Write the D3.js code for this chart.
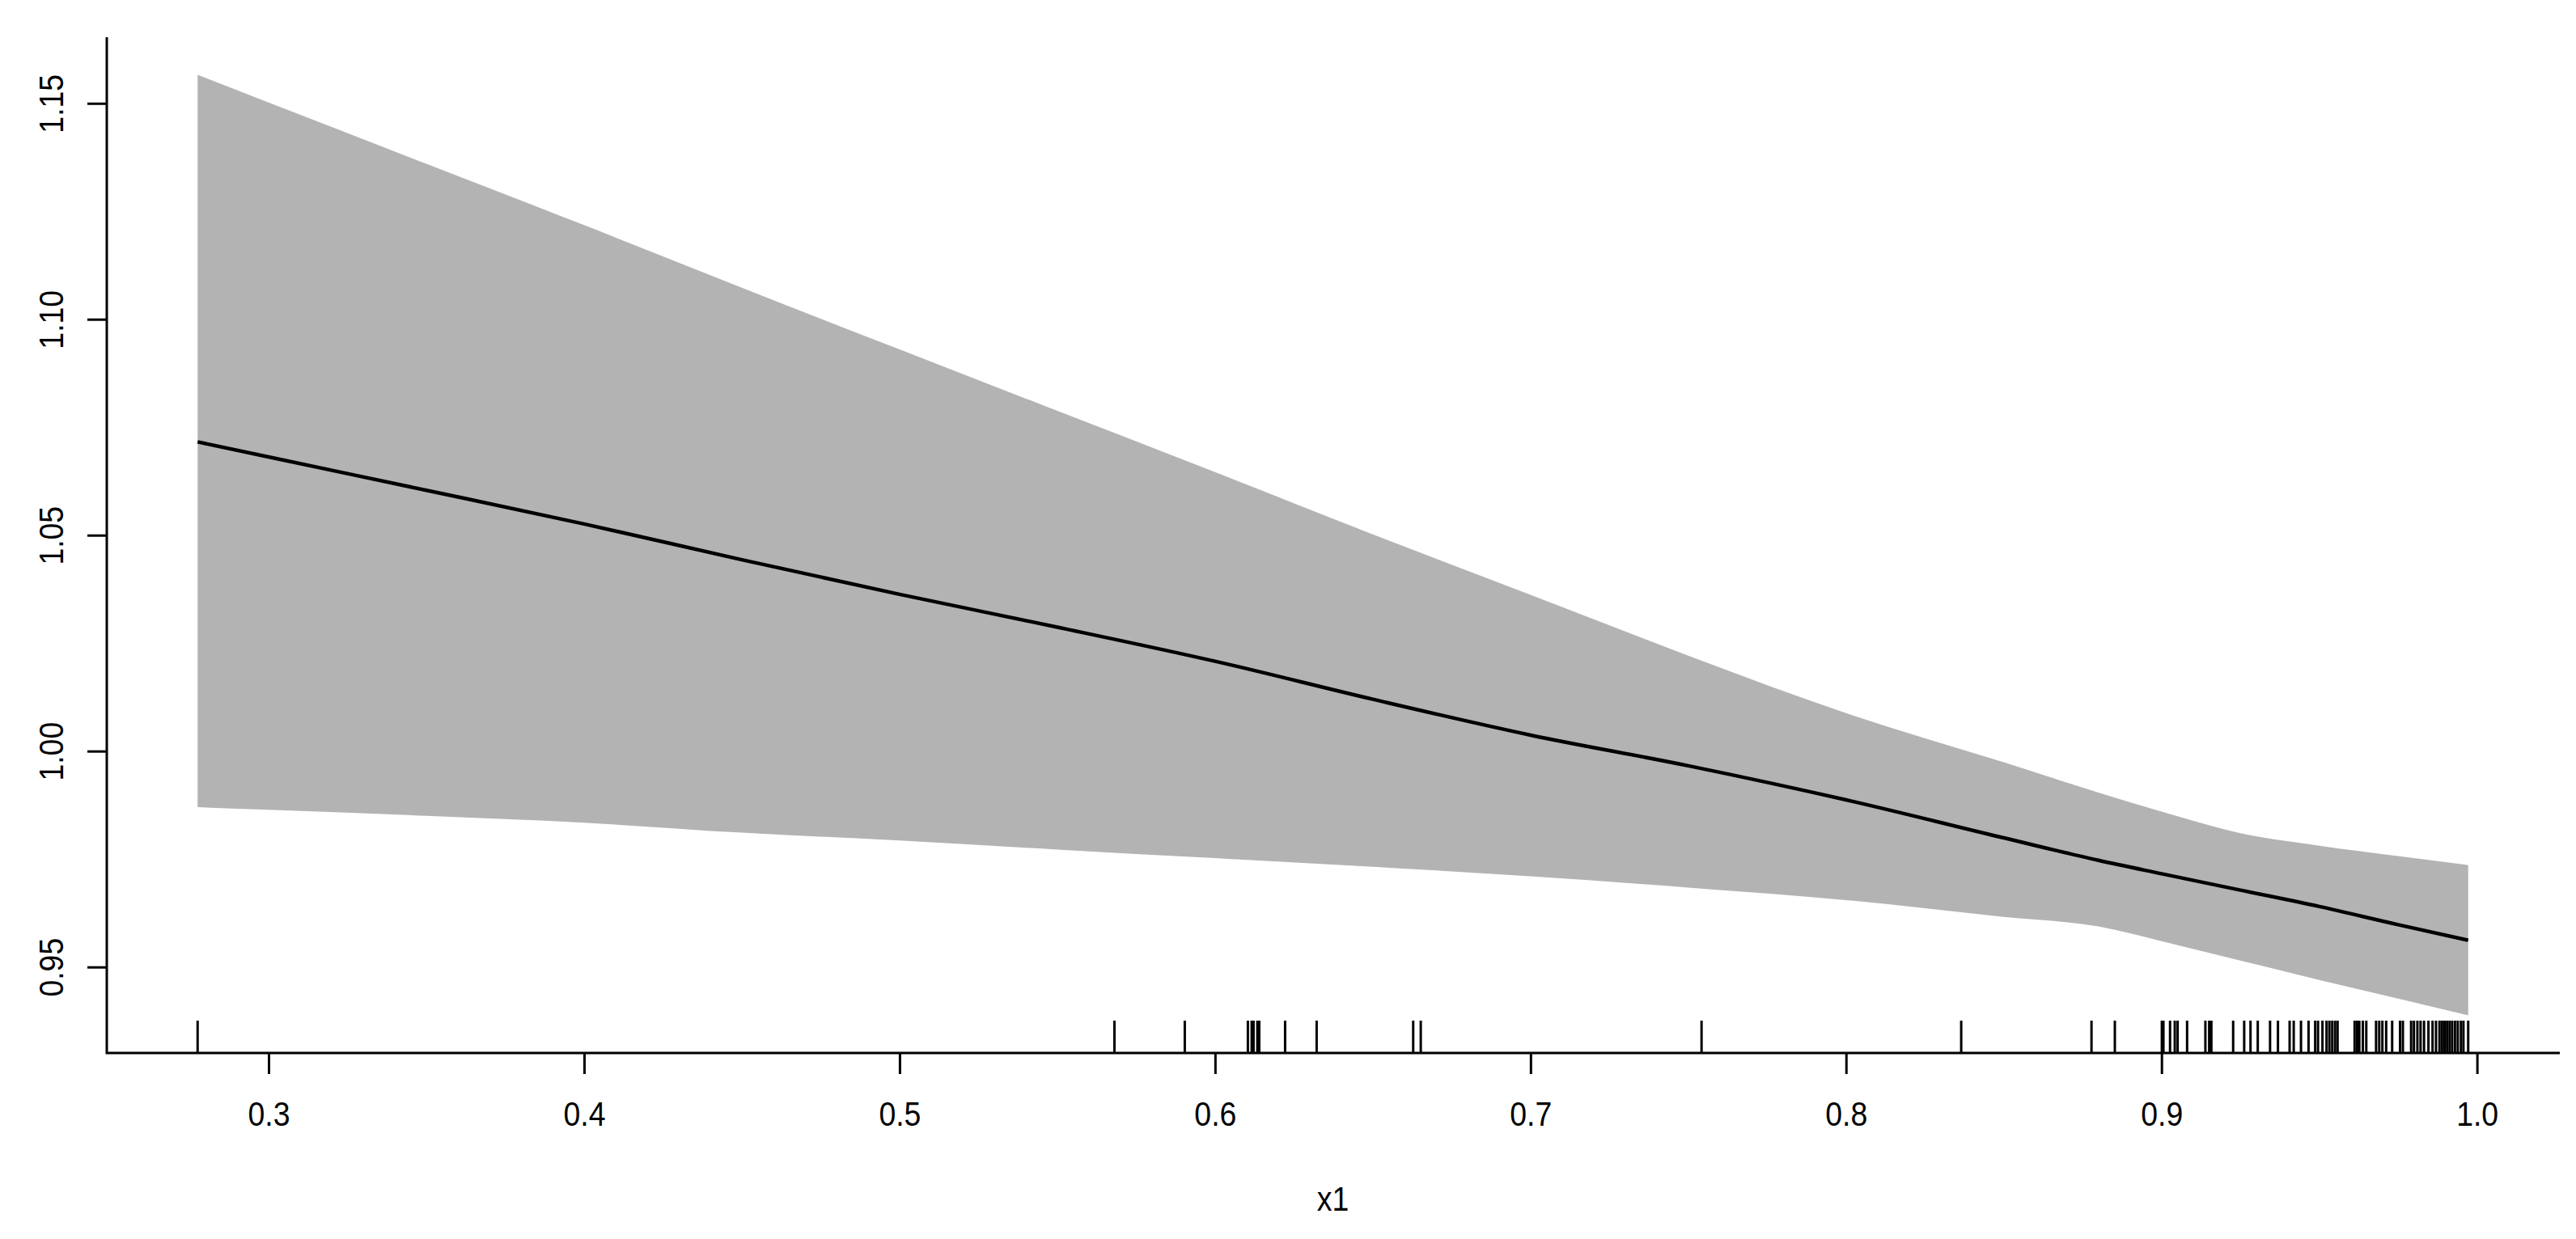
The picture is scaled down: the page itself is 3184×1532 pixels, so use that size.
<!DOCTYPE html>
<html>
<head>
<meta charset="utf-8">
<script src="https://cdn.jsdelivr.net/npm/d3@7"></script>
<style>
    body { margin: 0; background: #fff; }
    text { font-family: "Liberation Sans", Arial, sans-serif; }
</style>
</head>
<body>
<script>
//wrap everything in a self-executing function to keep things local
(function(){

//smooth fit: x grid with mean and confidence band
var fitX = [0.2775, 0.30, 0.35, 0.40, 0.45, 0.50, 0.55, 0.60, 0.65, 0.70, 0.75, 0.80, 0.85, 0.88, 0.90, 0.925, 0.95, 0.975, 0.9972];
var fitMean = [1.0716, 1.0681, 1.0604, 1.0526, 1.0443, 1.0363, 1.0287, 1.0208, 1.0120, 1.0037, 0.9966, 0.9887, 0.9799, 0.9747, 0.9716, 0.9678, 0.9640, 0.9598, 0.9562];
var fitUpper = [1.1566, 1.1502, 1.1360, 1.1218, 1.1073, 1.0930, 1.0788, 1.0646, 1.0502, 1.0362, 1.0221, 1.0088, 0.9974, 0.9904, 0.9860, 0.9810, 0.9781, 0.9757, 0.9736];
var fitLower = [0.9870, 0.9864, 0.9850, 0.9834, 0.9811, 0.9793, 0.9772, 0.9752, 0.9732, 0.9710, 0.9684, 0.9655, 0.9616, 0.9594, 0.9560, 0.9515, 0.9470, 0.9427, 0.9388];

//observed x1 values for the rug
var rugX = [0.2775, 0.5681, 0.5904, 0.6104, 0.6116, 0.6122, 0.6134, 0.6140, 0.6222, 0.6322, 0.6628, 0.6652,
    0.7542, 0.8365, 0.8778, 0.8852, 0.9001, 0.9006, 0.9027, 0.9042, 0.9051, 0.9081, 0.9139, 0.9151, 0.9158,
    0.9227, 0.9262, 0.9282, 0.9305, 0.9344, 0.9369, 0.9406, 0.9419, 0.9442, 0.9466, 0.9487, 0.9496, 0.9510,
    0.9523, 0.9532, 0.9541, 0.9550, 0.9558, 0.9612, 0.9620, 0.9627, 0.9638, 0.9649, 0.9680, 0.9690, 0.9700,
    0.9712, 0.9731, 0.9756, 0.9765, 0.9791, 0.9800, 0.9811, 0.9821, 0.9832, 0.9846, 0.9859, 0.9870, 0.9881,
    0.9889, 0.9897, 0.9905, 0.9913, 0.9921, 0.9930, 0.9939, 0.9949, 0.9957, 0.9972];

//axis ticks and labels
var xTicks = [0.3, 0.4, 0.5, 0.6, 0.7, 0.8, 0.9, 1.0];
var yTicks = [0.95, 1.00, 1.05, 1.10, 1.15];
var xTitle = "x1";

window.onload = drawChart();

function drawChart(){

    var width = 3184,
        height = 1532;

    //plot region (R-style, bty = "l")
    var left = 132,
        right = 3163,
        top = 46,
        bottom = 1302;

    var svg = d3.select("body")
        .append("svg")
        .attr("width", width)
        .attr("height", height);

    //R extends the data range by 4% on each side
    var xLim = [d3.min(fitX), d3.max(fitX)],
        yLim = [d3.min(fitLower), d3.max(fitUpper)];
    var xPad = (xLim[1] - xLim[0]) * 0.04,
        yPad = (yLim[1] - yLim[0]) * 0.04;

    var x = d3.scaleLinear()
        .domain([xLim[0] - xPad, xLim[1] + xPad])
        .range([left, right]);

    var y = d3.scaleLinear()
        .domain([yLim[0] - yPad, yLim[1] + yPad])
        .range([bottom, top]);

    var fit = fitX.map(function(d, i){
        return {x: d, mean: fitMean[i], lo: fitLower[i], hi: fitUpper[i]};
    });

    //confidence band
    var band = d3.area()
        .x(function(d){ return x(d.x); })
        .y0(function(d){ return y(d.lo); })
        .y1(function(d){ return y(d.hi); })
        .curve(d3.curveMonotoneX);

    svg.append("path")
        .datum(fit)
        .attr("d", band)
        .attr("fill", "#b3b3b3");

    //fitted line
    var line = d3.line()
        .x(function(d){ return x(d.x); })
        .y(function(d){ return y(d.mean); })
        .curve(d3.curveMonotoneX);

    svg.append("path")
        .datum(fit)
        .attr("d", line)
        .attr("fill", "none")
        .attr("stroke", "#000")
        .attr("stroke-width", 4.5);

    //rug along the bottom
    svg.selectAll(".rug")
        .data(rugX)
        .enter()
        .append("line")
        .attr("class", "rug")
        .attr("x1", function(d){ return x(d); })
        .attr("x2", function(d){ return x(d); })
        .attr("y1", bottom)
        .attr("y2", bottom - 40)
        .attr("stroke", "#000")
        .attr("stroke-width", 3);

    //x axis
    var xAxis = svg.append("g")
        .attr("transform", "translate(0," + bottom + ")")
        .call(d3.axisBottom(x)
            .tickValues(xTicks)
            .tickFormat(d3.format(".1f"))
            .tickSize(26)
            .tickPadding(33));

    //y axis
    var yAxis = svg.append("g")
        .attr("transform", "translate(" + left + ",0)")
        .call(d3.axisLeft(y)
            .tickValues(yTicks)
            .tickFormat(d3.format(".2f"))
            .tickSize(24));

    [xAxis, yAxis].forEach(function(g){
        g.select(".domain").remove();
        g.selectAll(".tick line")
            .attr("stroke", "#000")
            .attr("stroke-width", 3);
        g.selectAll(".tick text")
            .attr("fill", "#000")
            .style("font-size", "43px");
    });

    //narrow the labels a little, like the original device font
    xAxis.selectAll(".tick text")
        .attr("transform", "scale(0.87,1)");

    //rotate y labels parallel to the axis
    yAxis.selectAll(".tick text")
        .attr("x", null)
        .attr("dy", null)
        .attr("text-anchor", "middle")
        .attr("transform", "translate(-54,0) rotate(-90) scale(0.87,1)");

    //L-shaped box
    svg.append("path")
        .attr("d", "M" + left + "," + top + "V" + bottom + "H" + (right + 1))
        .attr("fill", "none")
        .attr("stroke", "#000")
        .attr("stroke-width", 3);

    //axis title
    svg.append("text")
        .attr("x", (left + right) / 2)
        .attr("y", 1497)
        .attr("text-anchor", "middle")
        .attr("transform", "translate(" + ((left + right) / 2) * 0.13 + ",0) scale(0.87,1)")
        .style("font-size", "43px")
        .text(xTitle);
};
})();
</script>
</body>
</html>
